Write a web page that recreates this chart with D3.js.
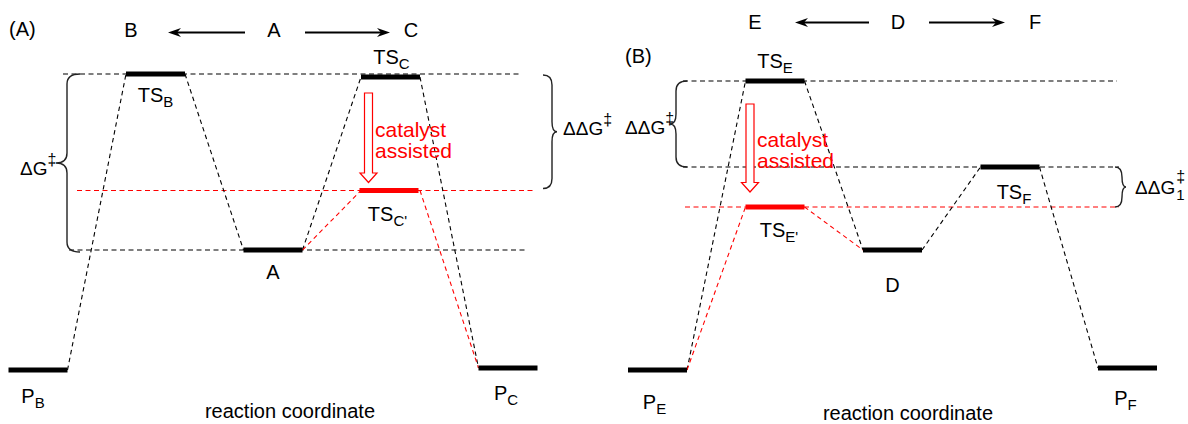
<!DOCTYPE html>
<html><head><meta charset="utf-8">
<script src="https://cdn.jsdelivr.net/npm/d3@7"></script>
<style>
body{margin:0;background:#fff}
svg{display:block}
text{font-family:"Liberation Sans",Arial,Helvetica,sans-serif}
</style>
</head><body>
<svg id="c" width="1188" height="424"></svg>
<script>
// ---------------- data ----------------
const slots = [0, 1, 2, 3, 4];
// Panel (A)
const namesA = ["P", "TS", "A", "TS", "P"];
const subsA = ["B", "B", "", "C", "C"];
const energyA = [-12, 17.6, 0, 17.3, -11.8];
const catSlotA = 3;
const catEnergyA = 5.95;
const catNameA = ["TS", "C'"];
const topLabelsA = ["B", "A", "C"];
// Panel (B)
const namesB = ["P", "TS", "D", "TS", "P"];
const subsB = ["E", "E", "", "F", "F"];
const energyB = [-12, 16.9, 0, 8.3, -11.8];
const catSlotB = 1;
const catEnergyB = 4.3;
const catNameB = ["TS", "E'"];
const topLabelsB = ["E", "D", "F"];
const catText = ["catalyst", "assisted"];
const axisTitle = "reaction coordinate";

// ---------------- layout ----------------
const svg = d3.select("#c");
const RED = "#ff0000";
const BW = 59;
const FS = 20;
const y = d3.scaleLinear().domain([-12, 17.6]).range([370, 74]);
const xA = d3.scaleLinear().domain([0, 4]).range([38, 508]);
const xB = d3.scaleLinear().domain([0, 4]).range([657.5, 1127.5]);

function hline(g, x1, x2, yy, color) {
  g.append("line").attr("x1", x1).attr("x2", x2).attr("y1", yy).attr("y2", yy)
    .attr("stroke", color).attr("stroke-width", 1.1).attr("stroke-dasharray", "5,3.5");
}
function connector(g, xa, ya, xb, yb, color) {
  g.append("line").attr("x1", xa).attr("y1", ya).attr("x2", xb).attr("y2", yb)
    .attr("stroke", color).attr("stroke-width", 1.1).attr("stroke-dasharray", "4.5,3.5");
}
function bar(g, cx, yy, color) {
  g.append("line").attr("x1", cx - BW / 2).attr("x2", cx + BW / 2).attr("y1", yy).attr("y2", yy)
    .attr("stroke", color).attr("stroke-width", 5);
}
function label(g, x, yy, main, sub, color, size) {
  const t = g.append("text").attr("x", x).attr("y", yy).attr("text-anchor", "middle")
    .attr("fill", color || "#000").style("font-size", (size || FS) + "px");
  t.append("tspan").text(main);
  if (sub) t.append("tspan").attr("dy", 5).style("font-size", "15px").text(sub);
  return t;
}
function brace(g, x, y1, y2, dir, h, tip) {
  const ym = (y1 + y2) / 2;
  const r = Math.min(10, (y2 - y1) / 4);
  const p = `M${x - dir * h},${y1} Q${x},${y1} ${x},${y1 + r} L${x},${ym - r} Q${x},${ym} ${x + dir * tip},${ym} ` +
            `Q${x},${ym} ${x},${ym + r} L${x},${y2 - r} Q${x},${y2} ${x - dir * h},${y2}`;
  g.append("path").attr("d", p).attr("fill", "none").attr("stroke", "#222").attr("stroke-width", 1.4);
}
function arrow(g, xs, xe, yy) {
  const d = xe > xs ? 1 : -1;
  g.append("line").attr("x1", xs).attr("x2", xe - d * 8).attr("y1", yy).attr("y2", yy)
    .attr("stroke", "#000").attr("stroke-width", 2);
  g.append("path").attr("d", `M${xe},${yy} L${xe - d * 13},${yy - 4.5} L${xe - d * 9},${yy} L${xe - d * 13},${yy + 4.5} Z`)
    .attr("fill", "#000");
}
function hollowArrow(g, cx, y1, y2) {
  const sw = 4, hw = 8.5, hl = 9.5;
  const p = `M${cx - sw},${y1} L${cx + sw},${y1} L${cx + sw},${y2 - hl} L${cx + hw},${y2 - hl} L${cx},${y2} ` +
            `L${cx - hw},${y2 - hl} L${cx - sw},${y2 - hl} Z`;
  g.append("path").attr("d", p).attr("fill", "#fff").attr("stroke", RED).attr("stroke-width", 1.2);
}
function deltaLabel(g, x, yy, txt) {
  const t = g.append("text").attr("x", x).attr("y", yy).style("font-size", "19px");
  t.append("tspan").text(txt);
  t.append("tspan").attr("dy", -10).style("font-size", "16px").text("\u2021");
}

// ---------------- panel A ----------------
const gA = svg.append("g");
hline(gA, 63, 519, y(energyA[1]), "#000");
hline(gA, 69, 525, y(energyA[2]), "#000");
hline(gA, 77, 533, y(catEnergyA), RED);
for (let i = 0; i < slots.length - 1; i++) {
  connector(gA, xA(slots[i]) + BW / 2, y(energyA[i]), xA(slots[i + 1]) - BW / 2, y(energyA[i + 1]), "#000");
}
connector(gA, xA(2) + BW / 2, y(energyA[2]), xA(catSlotA) - BW / 2, y(catEnergyA), RED);
connector(gA, xA(catSlotA) + BW / 2, y(catEnergyA), xA(4) - BW / 2, y(energyA[4]), RED);
slots.forEach((s, i) => bar(gA, xA(s), y(energyA[i]), "#000"));
bar(gA, xA(catSlotA) - 1.5, y(catEnergyA), RED);
brace(gA, 67, y(energyA[1]), y(energyA[2]) + 2, -1, 13, 11);
brace(gA, 552, y(energyA[3]) - 2, y(catEnergyA) - 2, 1, 9, 5);
deltaLabel(gA, 20, 175, "\u0394G");
deltaLabel(gA, 563, 135, "\u0394\u0394G");
hollowArrow(gA, xA(catSlotA) - BW / 2 + 7.5, y(energyA[3]) + 16, y(catEnergyA) - 8);
catText.forEach((t, i) => gA.append("text").attr("x", 375).attr("y", 137 + i * 21)
  .attr("fill", RED).style("font-size", "21px").text(t));
const offA = [[-5, 33], [0, 28], [0, 29], [1, -13], [-2, 32]];
slots.forEach((s, i) => label(gA, xA(s) + offA[i][0], y(energyA[i]) + offA[i][1], namesA[i], subsA[i]));
label(gA, xA(catSlotA) - 3, y(catEnergyA) + 30, catNameA[0], catNameA[1]);
label(gA, 131, 37, topLabelsA[0]);
label(gA, 274, 37, topLabelsA[1]);
label(gA, 411, 37, topLabelsA[2]);
arrow(gA, 245, 168, 32.5);
arrow(gA, 305, 390, 32.5);
gA.append("text").attr("x", 9).attr("y", 36).style("font-size", FS + "px").text("(A)");
label(gA, 290, 418, axisTitle);

// ---------------- panel B ----------------
const gB = svg.append("g");
hline(gB, 683, 1117, y(energyB[1]), "#000");
hline(gB, 683, 1119, y(energyB[3]), "#000");
hline(gB, 685, 1119, y(catEnergyB), RED);
for (let i = 0; i < slots.length - 1; i++) {
  connector(gB, xB(slots[i]) + BW / 2, y(energyB[i]), xB(slots[i + 1]) - BW / 2, y(energyB[i + 1]), "#000");
}
connector(gB, xB(0) + BW / 2, y(energyB[0]), xB(catSlotB) - BW / 2, y(catEnergyB), RED);
connector(gB, xB(catSlotB) + BW / 2, y(catEnergyB), xB(2) - BW / 2, y(energyB[2]), RED);
slots.forEach((s, i) => bar(gB, xB(s), y(energyB[i]), "#000"));
bar(gB, xB(catSlotB), y(catEnergyB), RED);
brace(gB, 676, y(energyB[1]), y(energyB[3]), -1, 11, 6);
brace(gB, 1122, y(energyB[3]), y(catEnergyB), 1, 7, 4);
deltaLabel(gB, 625, 134, "\u0394\u0394G");
const dd = gB.append("text").attr("x", 1135).attr("y", 194).style("font-size", "19px").text("\u0394\u0394G");
const w = dd.node().getComputedTextLength();
gB.append("text").attr("x", 1135 + w + 1).attr("y", 182).style("font-size", "16px").text("\u2021");
gB.append("text").attr("x", 1135 + w + 1).attr("y", 200).style("font-size", "15px").text("1");
hollowArrow(gB, xB(catSlotB) - BW / 2 + 4.5, y(energyB[1]) + 23, y(catEnergyB) - 15);
catText.forEach((t, i) => gB.append("text").attr("x", 757).attr("y", 147 + i * 21)
  .attr("fill", RED).style("font-size", "21px").text(t));
const offB = [[-3, 39], [0, -13], [0, 42], [4, 32], [-2, 37]];
slots.forEach((s, i) => label(gB, xB(s) + offB[i][0], y(energyB[i]) + offB[i][1], namesB[i], subsB[i]));
label(gB, xB(catSlotB) + 4, y(catEnergyB) + 30, catNameB[0], catNameB[1]);
label(gB, 755, 29, topLabelsB[0]);
label(gB, 898, 29, topLabelsB[1]);
label(gB, 1035, 29, topLabelsB[2]);
arrow(gB, 869, 795, 22.5);
arrow(gB, 929, 1005, 22.5);
gB.append("text").attr("x", 625).attr("y", 63).style("font-size", FS + "px").text("(B)");
label(gB, 908, 420, axisTitle);
</script>
</body></html>
